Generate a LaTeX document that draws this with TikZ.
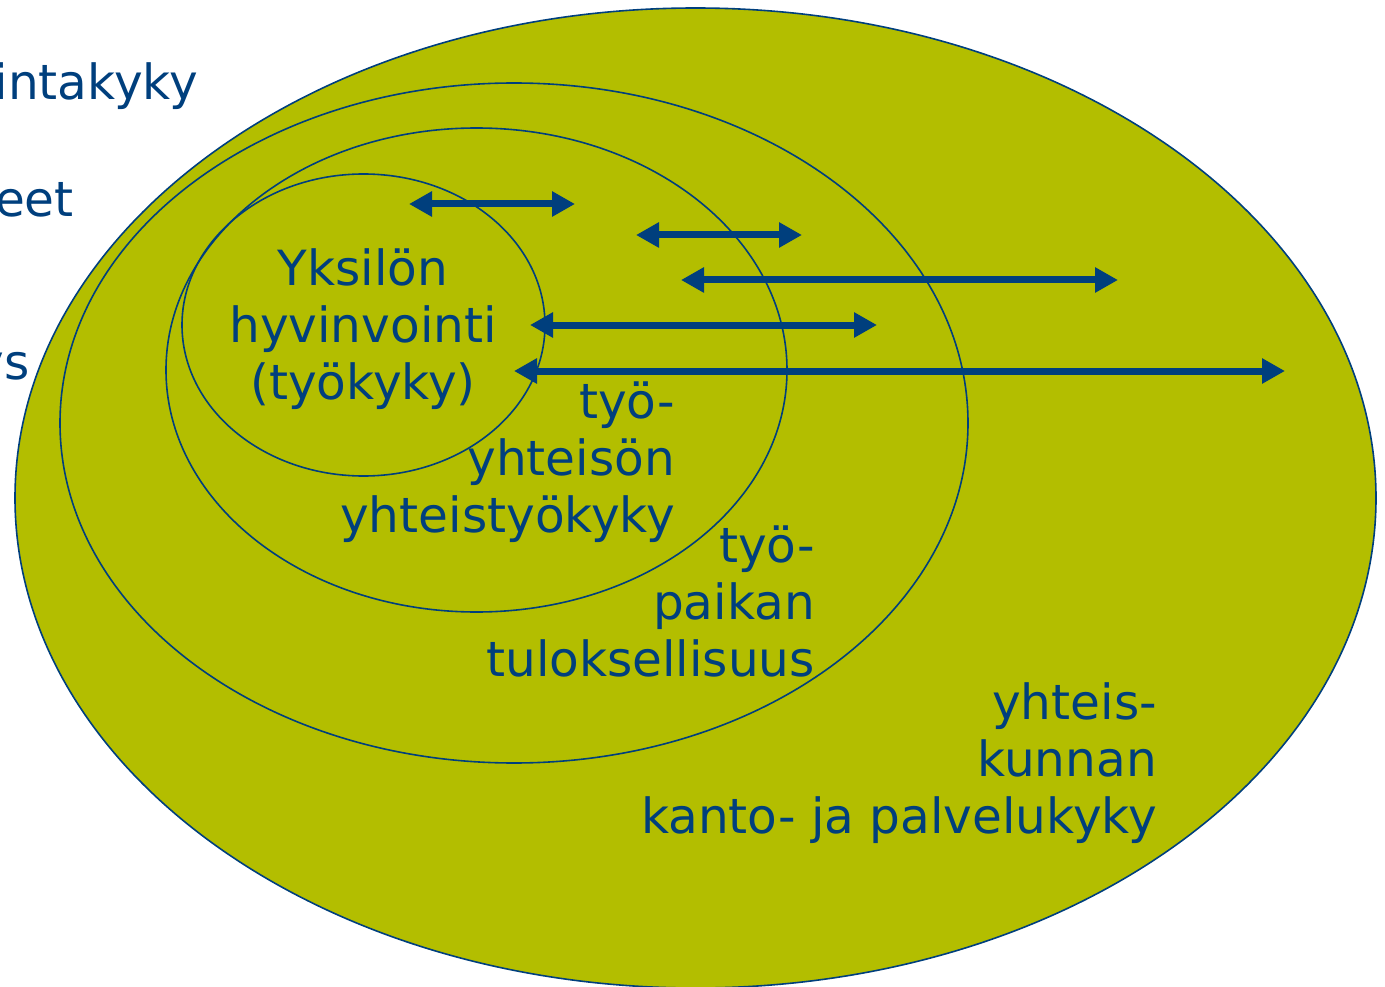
\documentclass[tikz,border=0pt]{standalone}
\usepackage{fontspec}
\setmainfont{DejaVu Sans}
\usetikzlibrary{arrows.meta}
\definecolor{olive}{RGB}{179,190,0}
\definecolor{navy}{RGB}{0,63,125}
\tikzset{
  ring/.style={draw=navy,line width=1.6pt},
  dblarrow/.style={navy,line width=7pt,{Triangle[width=24pt,length=23pt]}-{Triangle[width=24pt,length=23pt]}},
  lbl/.style={text=navy,font=\fontsize{48.5}{57}\selectfont,inner sep=0pt},
}
\begin{document}
\begin{tikzpicture}[x=1pt,y=-1pt]
\useasboundingbox (0,0) rectangle (1385,987);
% ellipses
\fill[olive] (695.5,498) ellipse [x radius=680.5,y radius=490];
\draw[ring] (695.5,498) ellipse [x radius=680.5,y radius=490];
\draw[ring] (514,423) ellipse [x radius=454,y radius=340];
\draw[ring] (476.5,370) ellipse [x radius=310.5,y radius=242];
\draw[ring] (363.5,325) ellipse [x radius=181.5,y radius=151];
% arrows
\coordinate (a1l) at (409,204); \coordinate (a1r) at (575,204);
\coordinate (a2l) at (636,235); \coordinate (a2r) at (802,235);
\coordinate (a3l) at (681,280); \coordinate (a3r) at (1118,280);
\coordinate (a4l) at (530,325); \coordinate (a4r) at (877,325);
\coordinate (a5l) at (514,371); \coordinate (a5r) at (1285,371);
\draw[dblarrow] (a1l) -- (a1r);
\draw[dblarrow] (a2l) -- (a2r);
\draw[dblarrow] (a3l) -- (a3r);
\draw[dblarrow] (a4l) -- (a4r);
\draw[dblarrow] (a5l) -- (a5r);
% labels
\node[lbl,align=center] (ind) at (363,329) {Yksilön\\hyvinvointi\\(työkyky)};
\node[lbl,align=right,anchor=east] (comm) at (675,462) {työ-\\yhteisön\\yhteistyökyky};
\node[lbl,align=right,anchor=east] (work) at (815,601) {työ-\\paikan\\tuloksellisuus};
\node[lbl,align=right,anchor=east] (soc) at (1157,763) {yhteis-\\kunnan\\kanto- ja palvelukyky};
\node[lbl,anchor=east] (l1) at (198,86) {intakyky};
\node[lbl,anchor=east] (l2) at (74,200) {eet};
\node[lbl,anchor=east] (l3) at (30,371) {ys};
\end{tikzpicture}
\end{document}
